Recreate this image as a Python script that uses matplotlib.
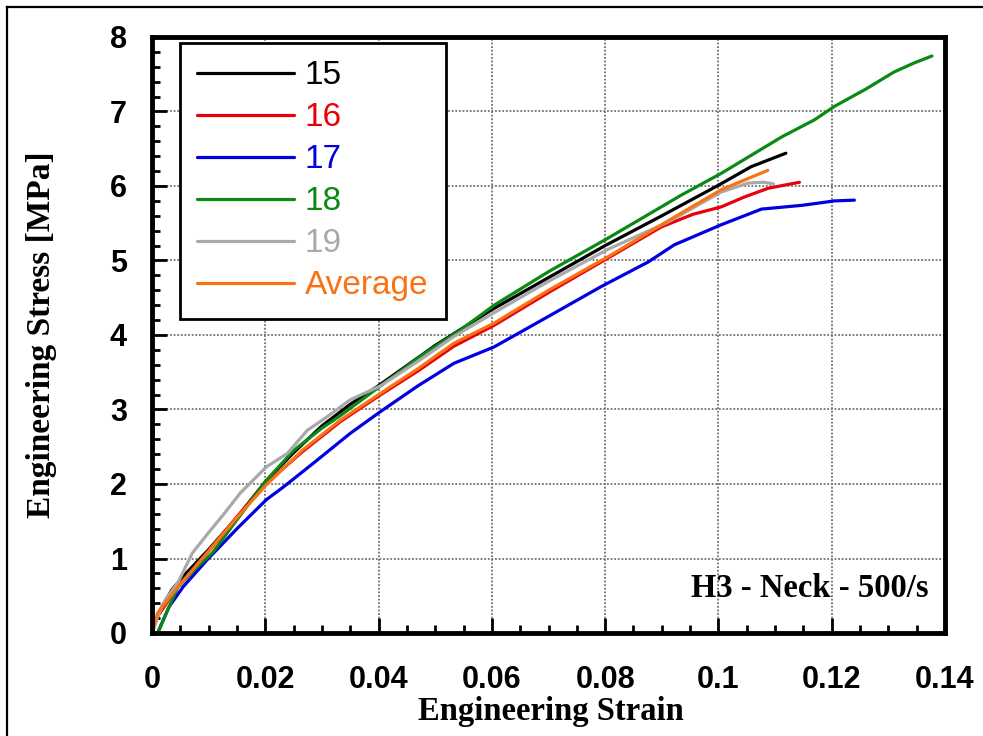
import numpy as np
import matplotlib
matplotlib.use("Agg")
import matplotlib.pyplot as plt
from matplotlib.lines import Line2D

SANS = "Liberation Sans"
SERIF = "Liberation Serif"

# specimen 15
strain_15 = [0, 0.001, 0.0035, 0.006, 0.01, 0.015, 0.02, 0.025, 0.03, 0.035, 0.04,
             0.05, 0.06, 0.07, 0.08, 0.09, 0.1, 0.1058, 0.1119]
stress_15 = [0, 0.25, 0.58, 0.80, 1.12, 1.55, 2.03, 2.42, 2.78, 3.07, 3.32,
             3.86, 4.34, 4.77, 5.20, 5.60, 6.01, 6.26, 6.44]

# specimen 16
strain_16 = [0, 0.0008, 0.003, 0.0046, 0.01, 0.015, 0.0202, 0.0265, 0.0333, 0.0404,
             0.047, 0.0533, 0.0604, 0.07, 0.0793, 0.0899, 0.0955, 0.1005, 0.1045,
             0.1088, 0.1143]
stress_16 = [0, 0.2, 0.45, 0.62, 1.10, 1.56, 2.01, 2.43, 2.84, 3.20,
             3.52, 3.85, 4.13, 4.57, 4.98, 5.45, 5.62, 5.72, 5.85,
             5.97, 6.05]

# specimen 17
strain_17 = [0.001, 0.003, 0.0055, 0.0097, 0.015, 0.0202, 0.0232, 0.0285, 0.035,
             0.0403, 0.047, 0.0533, 0.0604, 0.07, 0.0793, 0.0876, 0.0922, 0.1005,
             0.1076, 0.1147, 0.1205, 0.124]
stress_17 = [0, 0.35, 0.62, 0.98, 1.40, 1.79, 1.96, 2.28, 2.68,
             2.97, 3.32, 3.62, 3.84, 4.25, 4.65, 4.98, 5.21, 5.48,
             5.69, 5.74, 5.80, 5.81]

# specimen 18
strain_18 = [0.001, 0.003, 0.0046, 0.0075, 0.0106, 0.015, 0.0202, 0.025, 0.03,
             0.0333, 0.0404, 0.0475, 0.0545, 0.0604, 0.07, 0.0805, 0.0935, 0.1005,
             0.1112, 0.117, 0.1205, 0.126, 0.131, 0.1345, 0.1377]
stress_18 = [0, 0.35, 0.62, 0.85, 1.07, 1.52, 2.05, 2.45, 2.75,
             2.92, 3.32, 3.72, 4.07, 4.40, 4.85, 5.30, 5.88, 6.17,
             6.66, 6.89, 7.07, 7.30, 7.53, 7.65, 7.745]

# specimen 19
strain_19 = [0, 0.001, 0.0023, 0.0046, 0.0071, 0.0097, 0.0125, 0.0156, 0.0202,
             0.0239, 0.0274, 0.0305, 0.035, 0.0404, 0.047, 0.0533, 0.0604, 0.07,
             0.0805, 0.0912, 0.1005, 0.1053, 0.108, 0.1097]
stress_19 = [0, 0.22, 0.44, 0.68, 1.07, 1.32, 1.58, 1.88, 2.23,
             2.41, 2.72, 2.88, 3.13, 3.32, 3.65, 3.98, 4.30, 4.72,
             5.15, 5.52, 5.92, 6.04, 6.05, 6.03]

# average curve
strain_avg = [0, 0.001, 0.0046, 0.01, 0.015, 0.0202, 0.0265, 0.0333, 0.0404, 0.047,
              0.0533, 0.0604, 0.07, 0.0805, 0.0935, 0.1005, 0.1087]
stress_avg = [0, 0.27, 0.62, 1.10, 1.55, 1.99, 2.45, 2.86, 3.22, 3.55,
              3.89, 4.16, 4.60, 5.05, 5.64, 5.95, 6.21]

curves = [
    ("15", strain_15, stress_15, "#000000"),
    ("16", strain_16, stress_16, "#e8000b"),
    ("17", strain_17, stress_17, "#0000e0"),
    ("18", strain_18, stress_18, "#0a8a14"),
    ("19", strain_19, stress_19, "#a9a9a9"),
    ("Average", strain_avg, stress_avg, "#f97316"),
]

fig = plt.figure(figsize=(9.83, 7.36), dpi=100)
ax = fig.add_axes([152 / 983, 103 / 736, 793 / 983, 596 / 736])

for label, x, y, color in curves:
    ax.plot(x, y, color=color, lw=2.3, label=label, solid_capstyle="round")

ax.set_xlim(0, 0.14)
ax.set_ylim(0, 8)
ax.set_xticks(np.arange(0, 0.141, 0.02))
ax.set_xticklabels(["0", "0.02", "0.04", "0.06", "0.08", "0.1", "0.12", "0.14"])
ax.set_yticks(np.arange(0, 9, 1))
ax.set_xticks(np.arange(0, 0.1401, 0.005), minor=True)
ax.set_yticks(np.arange(0, 8.01, 0.2), minor=True)

ax.tick_params(which="both", direction="in", width=2, colors="black")
ax.tick_params(which="major", length=11)
ax.tick_params(which="minor", length=6)
ax.tick_params(axis="x", which="major", pad=23)
ax.tick_params(axis="y", which="major", pad=18)
for lab in ax.get_xticklabels() + ax.get_yticklabels():
    lab.set_fontfamily(SANS)
    lab.set_fontweight("bold")
    lab.set_fontsize(22)

for sp in ax.spines.values():
    sp.set_linewidth(3.5)

ax.grid(True, which="major", color="#707070", ls=(0, (1, 1)), lw=1.3)
ax.set_axisbelow(True)

ax.set_xlabel("Engineering Strain", fontfamily=SERIF, fontweight="bold", fontsize=23.5)
ax.set_ylabel("Engineering Stress [MPa]", fontfamily=SERIF, fontweight="bold", fontsize=24)
ax.xaxis.set_label_coords(0.503, -0.105)
ax.yaxis.set_label_coords(-0.139, 0.5)
ax.yaxis.label.set_va("center")

ax.text(0.9786, 0.075, "H3 - Neck - 500/s", transform=ax.transAxes, ha="right",
        va="center", fontfamily=SERIF, fontweight="bold", fontsize=23.5)

leg = ax.legend(loc="upper left", bbox_to_anchor=(28 / 793, 1 - 6 / 596),
                prop={"family": SANS, "size": 24}, labelcolor="linecolor",
                handlelength=2.9, handletextpad=0.32, labelspacing=0.33,
                borderpad=0.52, borderaxespad=0, fancybox=False, framealpha=1,
                edgecolor="black")
leg.get_frame().set_linewidth(2)

# thin frame along the left and top edges of the figure
fig.add_artist(Line2D([7 / 983, 7 / 983], [0, 1 - 7 / 736], transform=fig.transFigure,
                      color="black", lw=1.6))
fig.add_artist(Line2D([7 / 983, 1], [1 - 7 / 736, 1 - 7 / 736], transform=fig.transFigure,
                      color="black", lw=1.6))

fig.savefig("out.png", dpi=100)
